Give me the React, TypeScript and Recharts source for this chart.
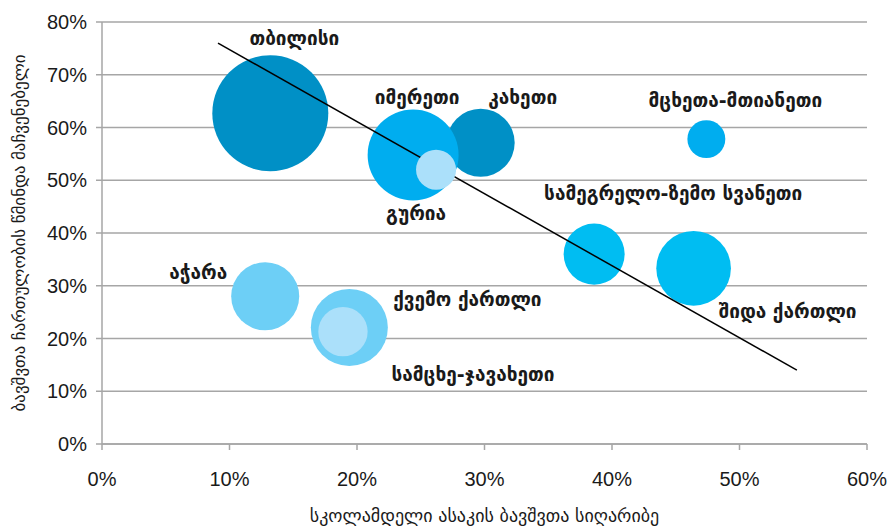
import { ScatterChart, Scatter, XAxis, YAxis, ZAxis, CartesianGrid, Cell, Label } from 'recharts';

/* ── Data ─────────────────────────────────────────────────────────────── */

// regions, drawn in this order (last two sit on top of the trend line)
const REGIONS = [
  'თბილისი',
  'კახეთი',
  'აჭარა',
  'ქვემო ქართლი',
  'იმერეთი',
  'მცხეთა-მთიანეთი',
  'სამეგრელო-ზემო სვანეთი',
  'შიდა ქართლი',
  'გურია',
  'სამცხე-ჯავახეთი',
];
const POVERTY   = [13.2, 29.7, 12.8, 19.4, 24.4, 47.4, 38.6, 46.4, 26.2, 18.9]; // %
const ENROLMENT = [62.7, 57.1, 28.0, 22.1, 54.8, 57.8, 36.0, 33.3, 52.0, 21.3]; // %
const CHILDREN  = [100, 34.4, 34.4, 44.1, 61.5, 10.7, 27.7, 41.4, 11.9, 18.1];  // relative bubble size

const TREND_X = [9.1, 54.5];
const TREND_Y = [76, 14];

const X_TICKS = [0, 10, 20, 30, 40, 50, 60];
const Y_TICKS = [0, 10, 20, 30, 40, 50, 60, 70, 80];

const X_TITLE = 'სკოლამდელი ასაკის ბავშვთა სიღარიბე';
const Y_TITLE = 'ბავშვთა ჩართულობის წმინდა მაჩვენებელი';

/* ── Style ────────────────────────────────────────────────────────────── */

const GRID = '#A6A6A6';
const INK  = '#1A1A1A';
const GEO  = "'DejaVu Sans', sans-serif";
const NUM  = "'Liberation Sans', Arial, sans-serif";
const FILLS = [
  '#0090C6', '#0090C6',
  '#6DCFF6', '#6DCFF6',
  '#00ADEF', '#00ADEF',
  '#00BDF2', '#00BDF2',
  '#ABE0FA', '#ABE0FA',
];
// label centre relative to bubble centre, px
const LABEL_SHIFT: [number, number][] = [
  [24, -75], [42, -46], [-67, -24], [118, -28], [4, -58],
  [29, -39], [79, -61], [94, 43], [-20, 43], [130, 42],
];

const pct = (v: number) => `${v}%`;

const rows = REGIONS.map((name, i) => ({ name, x: POVERTY[i], y: ENROLMENT[i], z: CHILDREN[i] }));
const mainRows = rows.slice(0, 8);
const lightRows = rows.slice(8);
const trendRows = TREND_X.map((x, i) => ({ x, y: TREND_Y[i] }));

function RegionLabel(props: any) {
  const name = props.payload?.name ?? props.name;
  const i = REGIONS.indexOf(name);
  if (i < 0) return <g />;
  const [dx, dy] = LABEL_SHIFT[i];
  return (
    <text
      x={props.cx + dx}
      y={props.cy + dy + 7}
      textAnchor="middle"
      fontFamily={GEO}
      fontWeight="bold"
      fontSize={19}
      fill={INK}
    >
      {name}
    </text>
  );
}

const NoPoint = () => <g />;

export default function App() {
  return (
    <div style={{ position: 'absolute', left: 0, top: 0, background: '#fff' }}>
      <ScatterChart width={892} height={529} margin={{ top: 22, right: 25, bottom: 35, left: 32 }}>
        <CartesianGrid vertical={false} stroke={GRID} strokeWidth={1.5} />
        <XAxis
          type="number"
          dataKey="x"
          domain={[0, 60]}
          ticks={X_TICKS}
          interval={0}
          tickFormatter={pct}
          stroke={GRID}
          strokeWidth={1.5}
          tickSize={6}
          tickMargin={22}
          height={50}
          tick={{ fill: INK, fontSize: 20, fontFamily: NUM }}
        >
          <Label
            content={() => (
              <text x={484.5} y={522} textAnchor="middle" fontFamily={GEO} fontSize={18} fill={INK}>
                {X_TITLE}
              </text>
            )}
          />
        </XAxis>
        <YAxis
          type="number"
          dataKey="y"
          domain={[0, 80]}
          ticks={Y_TICKS}
          interval={0}
          tickFormatter={pct}
          stroke={GRID}
          strokeWidth={1.5}
          tickSize={6}
          tickMargin={9}
          width={70}
          tick={{ fill: INK, fontSize: 20, fontFamily: NUM }}
        >
          <Label
            content={() => (
              <text
                x={25}
                y={233}
                transform="rotate(-90 25 233)"
                textAnchor="middle"
                fontFamily={GEO}
                fontSize={17}
                fill={INK}
              >
                {Y_TITLE}
              </text>
            )}
          />
        </YAxis>
        <ZAxis type="number" dataKey="z" domain={[0, 100]} range={[0, 10568]} />

        <Scatter data={mainRows} isAnimationActive={false}>
          {mainRows.map((r, i) => (
            <Cell key={r.name} fill={FILLS[i]} />
          ))}
        </Scatter>

        <Scatter
          data={trendRows}
          line={{ stroke: '#000', strokeWidth: 1.5 }}
          lineType="joint"
          shape={NoPoint}
          isAnimationActive={false}
        />

        <Scatter data={lightRows} isAnimationActive={false}>
          {lightRows.map((r, i) => (
            <Cell key={r.name} fill={FILLS[i + 8]} />
          ))}
        </Scatter>

        <Scatter data={rows} shape={RegionLabel} isAnimationActive={false} />
      </ScatterChart>
    </div>
  );
}
